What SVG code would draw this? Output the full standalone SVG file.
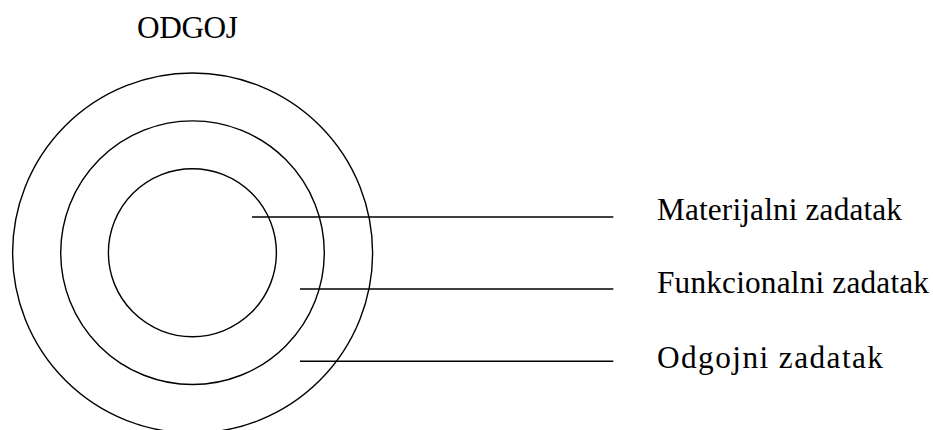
<svg xmlns="http://www.w3.org/2000/svg" width="933" height="430" viewBox="0 0 933 430">
<style>
.c{fill:none;stroke:#000;stroke-width:1.4}
.l{stroke:#000;stroke-width:1.4}
</style>
<rect width="933" height="430" fill="#fff"/>
<g font-family="Liberation Serif" font-size="31.3" fill="#000">
<g id="title"><text x="137" y="38.3" textLength="101" lengthAdjust="spacing">ODGOJ</text></g>
<g id="label1"><text x="657" y="220" textLength="245" lengthAdjust="spacing">Materijalni zadatak</text></g>
<g id="label2"><text x="657" y="293.3" textLength="272" lengthAdjust="spacing">Funkcionalni zadatak</text></g>
<g id="label3"><text x="657" y="368.3" textLength="226" lengthAdjust="spacing">Odgojni zadatak</text></g>
</g>
<g id="outer"><circle class="c" cx="192.6" cy="253" r="180"/></g>
<g id="middle"><circle class="c" cx="192.5" cy="252.7" r="131.8"/></g>
<g id="inner"><circle class="c" cx="192.4" cy="252.7" r="84"/></g>
<g id="connectors">
<line class="l" x1="252" y1="217" x2="613.3" y2="217"/>
<line class="l" x1="300" y1="289" x2="613.3" y2="289"/>
<line class="l" x1="300" y1="361.3" x2="613.3" y2="361.3"/>
</g>
</svg>
